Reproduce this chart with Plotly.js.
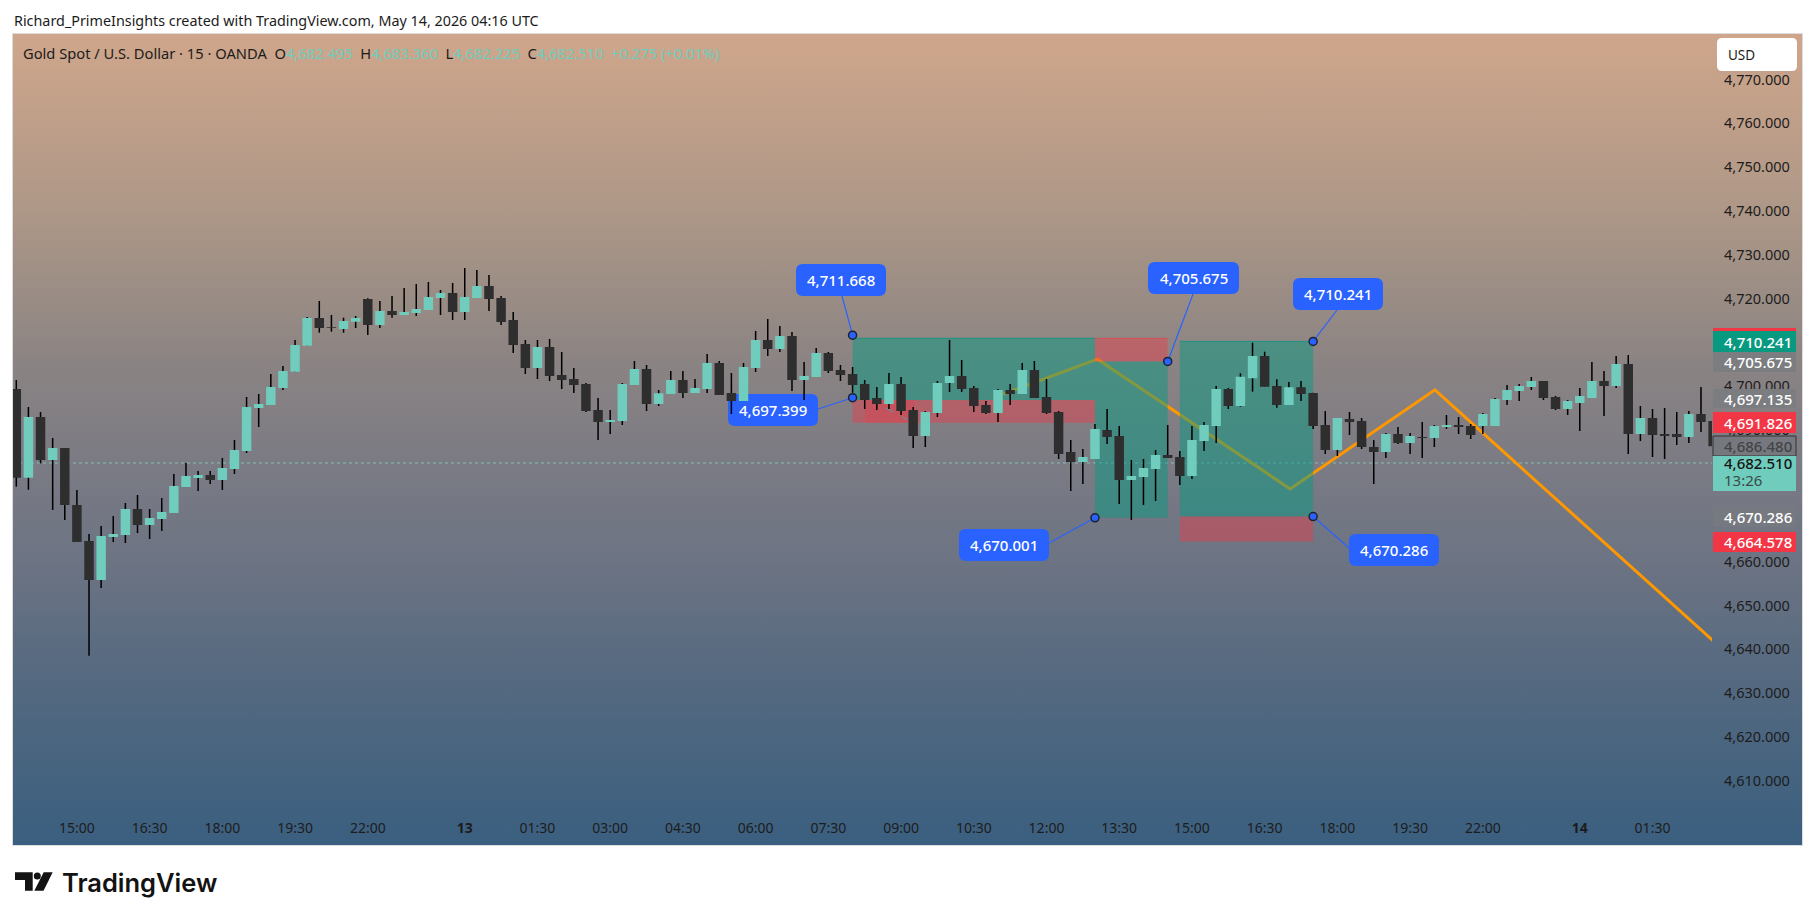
<!DOCTYPE html>
<html>
<head>
<meta charset="utf-8">
<title>Gold Spot / U.S. Dollar</title>
<script src="https://cdn.plot.ly/plotly-3.0.1.min.js"></script>
<style>
  html, body { margin: 0; padding: 0; background: #fff; }
  #bg {
    position: absolute; left: 12px; top: 33px; width: 1789px; height: 811px;
    border: 1px solid #dcdcdc;
    background: linear-gradient(to bottom, #cfa68b 0%, #bd9e89 12%, #ad9787 22%, #9e8f85 30%, #8a8383 41%,
      #7b7b84 53%, #6b7383 66%, #576a80 78%, #44637f 92%, #3b5f80 100%);
  }
  #chart { position: absolute; left: 0; top: 0; width: 1815px; height: 920px; }
</style>
</head>
<body>
<div id="bg"></div>
<div id="chart"></div>
<script>
const candleOpen = [
  4699.38,4679.15,4692.99,4683.18,4685.92,4672.92,4664.70,4655.80,4665.62,4666.07,
  4672.00,4668.35,4669.72,4671.09,4677.02,4679.08,4679.76,4678.62,4681.13,4685.24,
  4695.05,4695.73,4699.61,4703.34,4709.27,4715.59,4713.50,4713.08,4714.75,4719.92,
  4713.99,4717.18,4716.27,4716.73,4717.41,4720.15,4721.29,4716.96,4720.15,4722.89,
  4720.15,4715.13,4709.65,4704.18,4708.97,4702.58,4701.67,4700.53,4694.60,4691.86,
  4692.09,4700.30,4703.95,4695.96,4698.25,4701.44,4698.47,4699.39,4705.32,4698.47,
  4696.65,4704.18,4710.57,4708.51,4711.48,4701.44,4702.12,4707.60,4703.72,4702.81,
  4700.53,4697.33,4695.96,4700.53,4694.60,4688.66,4693.91,4700.76,4702.35,4699.61,
  4695.74,4693.91,4699.16,4698.25,4703.72,4697.56,4694.14,4685.01,4682.73,4683.42,
  4690.03,4688.66,4678.62,4679.31,4681.13,4684.33,4683.87,4679.54,4687.52,4690.95,
  4699.39,4695.50,4701.82,4706.91,4700.07,4695.73,4699.76,4698.47,4691.17,4685.47,
  4692.54,4692.08,4686.15,4685.01,4689.12,4687.06,4688.43,4688.20,4690.71,4691.17,
  4690.94,4690.94,4690.94,4696.87,4698.93,4699.84,4701.21,4697.56,4694.82,4696.19,
  4697.33,4701.21,4700.07,4705.09,4689.12,4692.77,4689.12,4689.12,4688.43,4693.68,
  4692.10];
const candleHigh = [
  4701.44,4695.28,4694.13,4688.20,4685.92,4676.34,4666.30,4668.13,4670.41,4673.37,
  4675.20,4672.00,4674.51,4680.00,4682.50,4680.67,4680.67,4683.64,4687.75,4697.56,
  4698.24,4702.80,4704.63,4710.57,4715.80,4719.47,4716.27,4715.66,4716.04,4720.07,
  4719.47,4720.60,4722.43,4723.34,4723.80,4721.98,4723.57,4727.00,4726.54,4725.40,
  4720.60,4716.96,4710.57,4710.57,4710.80,4707.83,4704.18,4700.76,4697.33,4694.60,
  4700.76,4705.78,4704.86,4699.16,4703.49,4703.49,4701.67,4707.37,4705.78,4703.04,
  4705.32,4712.62,4715.36,4713.76,4712.39,4705.55,4708.74,4707.83,4704.86,4704.40,
  4701.44,4699.84,4703.04,4702.12,4695.28,4694.37,4701.21,4710.57,4706.00,4700.07,
  4696.65,4699.39,4700.53,4705.32,4705.78,4701.67,4694.37,4687.75,4685.70,4691.40,
  4694.82,4690.95,4683.19,4683.42,4685.47,4691.17,4685.24,4690.95,4691.86,4700.07,
  4699.61,4702.96,4709.96,4707.90,4701.59,4700.98,4701.21,4698.55,4694.36,4692.77,
  4694.14,4692.77,4687.75,4689.35,4690.71,4689.35,4691.86,4691.17,4693.45,4693.00,
  4691.40,4693.91,4697.33,4700.30,4700.53,4702.12,4701.21,4697.79,4696.87,4699.61,
  4705.54,4703.49,4706.91,4707.14,4695.51,4694.82,4695.05,4694.14,4694.36,4699.84,
  4692.10];
const candleLow = [
  4677.10,4676.40,4682.42,4671.78,4669.49,4664.47,4638.54,4653.98,4664.47,4664.25,
  4666.53,4665.16,4666.98,4671.09,4677.02,4676.11,4677.71,4676.34,4679.99,4684.78,
  4690.71,4695.73,4699.15,4703.34,4709.27,4712.24,4712.47,4712.24,4713.30,4711.71,
  4713.30,4715.66,4716.27,4716.04,4717.41,4716.27,4715.13,4715.13,4720.15,4717.18,
  4713.99,4707.60,4702.81,4701.67,4701.21,4699.39,4698.48,4694.14,4687.75,4689.12,
  4691.17,4700.30,4694.37,4695.51,4698.25,4697.33,4698.47,4698.47,4698.02,4693.68,
  4696.65,4703.27,4706.92,4707.83,4698.93,4696.88,4702.12,4703.04,4701.21,4698.55,
  4694.82,4694.60,4694.82,4693.45,4685.92,4686.15,4692.99,4698.70,4698.70,4694.14,
  4693.68,4691.86,4695.74,4698.25,4697.33,4693.68,4683.42,4676.12,4677.71,4683.42,
  4686.84,4673.15,4669.50,4672.92,4673.83,4683.64,4677.48,4678.85,4685.24,4687.07,
  4694.82,4695.35,4698.78,4699.92,4695.13,4695.73,4696.65,4690.26,4684.55,4684.10,
  4688.89,4685.69,4677.71,4683.64,4686.84,4684.55,4683.64,4686.15,4690.26,4689.12,
  4687.98,4689.12,4690.94,4695.73,4696.65,4699.16,4696.87,4694.60,4693.45,4689.80,
  4697.33,4693.22,4699.61,4684.55,4687.52,4683.87,4683.41,4686.61,4687.06,4689.57,
  4686.30];
const candleClose = [
  4679.15,4692.99,4683.18,4685.92,4672.92,4664.47,4655.80,4665.84,4666.30,4672.00,
  4668.35,4669.95,4671.32,4677.25,4679.53,4679.76,4678.62,4681.36,4685.47,4695.28,
  4695.96,4699.84,4703.49,4709.43,4715.59,4713.30,4713.30,4714.90,4715.59,4713.99,
  4717.18,4716.27,4716.96,4717.64,4720.38,4721.29,4716.96,4720.38,4722.89,4719.92,
  4714.67,4709.43,4704.18,4708.97,4702.36,4701.44,4700.30,4694.37,4691.86,4692.31,
  4700.53,4703.95,4695.96,4698.40,4701.44,4698.47,4699.61,4705.32,4698.02,4696.65,
  4704.41,4710.57,4708.51,4711.48,4701.44,4702.35,4707.60,4703.49,4702.58,4700.30,
  4696.88,4695.96,4700.53,4694.37,4688.66,4694.14,4700.76,4702.35,4699.39,4695.51,
  4693.91,4699.16,4698.25,4703.72,4697.33,4693.91,4684.56,4682.73,4683.87,4690.26,
  4688.44,4678.62,4679.54,4681.36,4684.33,4683.64,4679.54,4687.75,4691.17,4699.39,
  4695.51,4702.20,4706.91,4699.92,4695.73,4699.76,4698.24,4690.94,4685.47,4692.77,
  4691.86,4686.15,4685.01,4689.12,4687.06,4688.66,4688.20,4690.94,4691.17,4690.71,
  4688.89,4693.68,4697.10,4699.16,4700.07,4701.21,4697.33,4694.82,4696.65,4697.79,
  4701.21,4700.07,4705.09,4689.12,4692.77,4688.89,4688.66,4688.43,4693.68,4691.86,
  4686.30];

const timeTickBars = [5,11,17,23,29,37,43,49,55,61,67,73,79,85,91,97,103,109,115,121,129,135];
const timeTickLabels = ["15:00","16:30","18:00","19:30","22:00","<b>13</b>","01:30","03:00","04:30","06:00","07:30",
  "09:00","10:30","12:00","13:30","15:00","16:30","18:00","19:30","22:00","<b>14</b>","01:30"];
// 4,670 4,680 and 4,710 sit fully behind the price tags in the picture
const priceTicks = [4610,4620,4630,4640,4650,4660,4690,4700,4720,4730,4740,4750,4760,4770];

// orange zigzag drawing, and the short faint dashed one inside the first box
const zigzagBars = [81.4, 89.2, 105.1, 117.05, 140.5];
const zigzagPrices = [4698.2, 4706.2, 4676.6, 4699.2, 4640.7];
const dashBars = [71.7, 73.6];
const dashPrices = [4695.05, 4692.3];

// position boxes
const boxStart = [69, 89, 96];
const boxEnd = [89, 95, 107];
const boxTop = [4710.95, 4710.95, 4710.24];
const boxMid = [4696.9, 4705.68, 4670.29];
const boxBottom = [4691.7, 4670.0, 4664.58];
const boxProfitOnTop = [true, false, true];

// price notes: the blue labels with a dot on the chart
const noteBars = [69, 69, 89, 95, 107, 107];
const notePrices = [4711.668, 4697.399, 4670.001, 4705.675, 4710.241, 4670.286];
const lastPrice = 4682.51;
const plot = {left: 13, right: 1712, top: 34, bottom: 818};
const barX = px => (px - 16.3) / 12.12;
const priceY = py => 4770 - (py - 79.5) / 4.383;
const paperX = px => (px - plot.left) / (plot.right - plot.left);
const paperY = py => (plot.bottom - py) / (plot.bottom - plot.top);

const fmt = v => v.toLocaleString("en-US", {minimumFractionDigits: 3, maximumFractionDigits: 3});
const TEAL = "#70ccbd", DARK = "#2e2e2e", BLUE = "#2962ff", INK = "#1c1c1c";
const FONT = "Noto Sans";

// rounded rectangle as a shape path, x and y mappers decide the reference
function roundPath(x0, y0, x1, y1, r, mx, my) {
  const p = (a, b) => mx(a) + "," + my(b);
  return "M" + p(x0 + r, y0) + " L" + p(x1 - r, y0) + " Q" + p(x1, y0) + " " + p(x1, y0 + r) +
    " L" + p(x1, y1 - r) + " Q" + p(x1, y1) + " " + p(x1 - r, y1) +
    " L" + p(x0 + r, y1) + " Q" + p(x0, y1) + " " + p(x0, y1 - r) +
    " L" + p(x0, y0 + r) + " Q" + p(x0, y0) + " " + p(x0 + r, y0) + " Z";
}

const shapes = [];
const annotations = [];

// zigzag goes first so the boxes tint it
shapes.push({type: "path", xref: "x", yref: "y", layer: "below",
  path: "M" + zigzagBars.map((b, i) => b + "," + zigzagPrices[i]).join(" L"),
  line: {color: "#ff9800", width: 3}});

const GREEN_FILL = "rgba(8,153,129,0.5)", RED_FILL = "rgba(242,54,69,0.42)";
boxStart.forEach((start, i) => {
  const upper = boxProfitOnTop[i] ? GREEN_FILL : RED_FILL;
  const lower = boxProfitOnTop[i] ? RED_FILL : GREEN_FILL;
  const common = {type: "rect", xref: "x", yref: "y", layer: "below", x0: start, x1: boxEnd[i]};
  shapes.push(Object.assign({}, common, {y0: boxTop[i], y1: boxMid[i], fillcolor: upper, line: {width: 0}}));
  shapes.push(Object.assign({}, common, {y0: boxMid[i], y1: boxBottom[i], fillcolor: lower, line: {width: 0}}));
  shapes.push({type: "line", xref: "x", yref: "y", layer: "below", x0: start, x1: boxEnd[i], y0: boxTop[i], y1: boxTop[i],
    line: {color: boxProfitOnTop[i] ? "rgba(8,153,129,0.8)" : "rgba(242,54,69,0.5)", width: 1}});
});
// brighter patch in the red part of the first box
shapes.push({type: "rect", xref: "x", yref: "y", layer: "below", x0: barX(865), x1: barX(915), y0: boxMid[0], y1: boxBottom[0],
  fillcolor: "rgba(242,54,69,0.3)", line: {width: 0}});
shapes.push({type: "path", xref: "x", yref: "y", layer: "below",
  path: "M" + dashBars[0] + "," + dashPrices[0] + " L" + dashBars[1] + "," + dashPrices[1],
  line: {color: "rgba(130,130,135,0.9)", width: 1.5, dash: "dash"}});

// last price line
shapes.push({type: "line", xref: "paper", yref: "y", layer: "below", x0: 0, x1: 1, y0: lastPrice, y1: lastPrice,
  line: {color: "rgba(140,215,200,0.75)", width: 1, dash: "dot"}});

// blue labels: box in pixels, leader from the box to the dot
const noteBoxes = [
  {x0: 796, x1: 886, y0: 264, y1: 296, lx: 842, ly: 296},
  {x0: 728, x1: 818, y0: 394, y1: 426, lx: 818, ly: 409},
  {x0: 959, x1: 1049, y0: 529, y1: 561, lx: 1049, ly: 543},
  {x0: 1148, x1: 1239, y0: 262, y1: 294, lx: 1193, ly: 294},
  {x0: 1293, x1: 1383, y0: 278, y1: 310, lx: 1337, ly: 310},
  {x0: 1349, x1: 1439, y0: 534, y1: 566, lx: 1349, ly: 548}
];
noteBoxes.forEach((b, i) => {
  shapes.push({type: "line", xref: "x", yref: "y", layer: "below", x0: barX(b.lx), y0: priceY(b.ly),
    x1: noteBars[i], y1: notePrices[i], line: {color: BLUE, width: 1.2}});
  shapes.push({type: "path", xref: "x", yref: "y", layer: "below", fillcolor: BLUE, line: {width: 0},
    path: roundPath(b.x0, b.y0, b.x1, b.y1, 7, barX, priceY)});
  annotations.push({xref: "paper", yref: "paper", x: paperX((b.x0 + b.x1) / 2), y: paperY((b.y0 + b.y1) / 2 - 0.5),
    xanchor: "center", yanchor: "middle", showarrow: false, text: fmt(notePrices[i]),
    font: {family: FONT, size: 15, color: "#fff", weight: 500}});
});

// price axis tags, the order matters because they overlap a little
const tagValues = [4710.241, 4705.675, 4697.135, 4691.826, 4686.48, 4682.51, 4670.286, 4664.578];
const tagStyles = [
  {y0: 331, y1: 352, fill: "#089981", text: "#fff"},
  {y0: 352, y1: 372, fill: "#7b7d80", text: "#fff"},
  {y0: 389, y1: 408, fill: "#7b7d80", text: "#fff"},
  {y0: 412, y1: 433, fill: "#f23645", text: "#fff"},
  {y0: 436, y1: 456, fill: "#767880", text: "#444", border: "#333"},
  {y0: 456, y1: 491, fill: TEAL, text: "#141414", cy: 463},
  {y0: 506, y1: 527, fill: "#767a80", text: "#fff"},
  {y0: 532, y1: 552, fill: "#f23645", text: "#fff"}
];
const tagLeft = 1713, tagRight = 1796, tagTextLeft = 1721.5;
function pixelRect(x0, y0, x1, y1, fill, line) {
  return {type: "rect", xref: "paper", yref: "paper", layer: "above", x0: paperX(x0), x1: paperX(x1), y0: paperY(y0), y1: paperY(y1),
    fillcolor: fill, line: line || {width: 0}};
}
function pixelText(px, py, text, font, anchor) {
  return {xref: "paper", yref: "paper", x: paperX(px), y: paperY(py), xanchor: anchor || "left", yanchor: "middle",
    showarrow: false, text: text, font: font};
}
shapes.push(pixelRect(tagLeft, 328, tagRight, 332, "#f23645"));
tagStyles.forEach((t, i) => {
  shapes.push(pixelRect(tagLeft, t.y0, tagRight, t.y1, t.fill, t.border ? {color: t.border, width: 1} : null));
  annotations.push(pixelText(tagTextLeft, t.cy || (t.y0 + t.y1) / 2, fmt(tagValues[i]), {family: FONT, size: 15, color: t.text, weight: 500}));
});
annotations.push(pixelText(tagTextLeft, 480, "13:26", {family: FONT, size: 15, color: "#3a4a48"}));

// USD button, the strip under it hides the top of the 4,770 label
shapes.push(pixelRect(1717, 68, 1797, 75, "#c5a08a"));
shapes.push({type: "path", xref: "paper", yref: "paper", layer: "above", fillcolor: "#fff", line: {width: 0},
  path: roundPath(1717, 38, 1797, 71, 5, paperX, paperY)});
annotations.push(pixelText(1726.5, 54.5, "USD", {family: FONT, size: 13.5, color: INK}));

// header line
annotations.push(pixelText(11.5, 20, "Richard_PrimeInsights created with TradingView.com, May 14, 2026 04:16 UTC",
  {family: FONT, size: 14.35, color: INK}));

// logo, drawn in pixels under the chart
const logoPaths = [
  "M15,872.3 L32.7,872.3 L32.7,890.7 L25,890.7 L25,880 L15,880 Z",
  "M43.7,872.3 L52.7,872.3 L43.5,890.7 L34.3,890.7 Z"
];
logoPaths.forEach(p => {
  const mapped = p.replace(/([\d.]+),([\d.]+)/g, (m, a, b) => paperX(+a) + "," + paperY(+b));
  shapes.push({type: "path", xref: "paper", yref: "paper", layer: "above", fillcolor: "#131313", line: {width: 0}, path: mapped});
});
shapes.push({type: "circle", xref: "paper", yref: "paper", layer: "above", fillcolor: "#131313", line: {width: 0},
  x0: paperX(33.8), x1: paperX(40.8), y0: paperY(872.4), y1: paperY(879.4)});
annotations.push(pixelText(60, 882, "TradingView", {family: "Inter", size: 25.5, color: "#131313", weight: 600}));

const up = s => '<span style="color:' + TEAL + '">' + s + "</span>";
const legendText = "Gold Spot / U.S. Dollar · 15 · OANDA\u00a0\u00a0O" + up("4,682.495") + "\u00a0\u00a0H" + up("4,683.360") +
  "\u00a0\u00a0L" + up("4,682.225") + "\u00a0\u00a0C" + up("4,682.510") + "\u00a0\u00a0" + up("+0.275 (+0.01%)");

const allBars = candleOpen.map((_, i) => i);
const wicks = {
  type: "bar", x: allBars, base: candleLow, y: candleHigh.map((h, i) => h - candleLow[i]),
  width: 0.125, marker: {color: "#000", line: {width: 0}}, hoverinfo: "skip"
};
const bodies = {
  type: "candlestick", x: allBars, open: candleOpen, close: candleClose,
  high: candleOpen.map((o, i) => Math.max(o, candleClose[i])),
  low: candleOpen.map((o, i) => Math.min(o, candleClose[i])),
  whiskerwidth: 0,
  increasing: {fillcolor: TEAL, line: {color: TEAL, width: 0}},
  decreasing: {fillcolor: DARK, line: {color: DARK, width: 0}},
  hoverinfo: "skip"
};
const noteDots = {
  type: "scatter", mode: "markers", x: noteBars, y: notePrices,
  marker: {size: 8, color: BLUE, line: {color: "#1e222d", width: 1.5}}, hoverinfo: "skip"
};

const layout = {
  width: 1815, height: 920,
  margin: {l: plot.left, r: 1815 - plot.right, t: plot.top, b: 920 - plot.bottom, pad: 0},
  paper_bgcolor: "rgba(0,0,0,0)", plot_bgcolor: "rgba(0,0,0,0)",
  showlegend: false, dragmode: false, hovermode: false,
  barmode: "overlay", boxgap: 0.22, boxgroupgap: 0,
  title: {text: legendText, xref: "container", yref: "container", x: 23 / 1815, y: 1 - 54 / 920, xanchor: "left", yanchor: "middle",
    font: {family: FONT, size: 14.7, color: INK}},
  xaxis: {
    type: "linear", range: [barX(plot.left), barX(plot.right)], fixedrange: true, rangeslider: {visible: false},
    showgrid: false, zeroline: false, showline: false, ticks: "",
    tickmode: "array", tickvals: timeTickBars, ticktext: timeTickLabels,
    tickfont: {family: FONT, size: 14, color: INK}
  },
  yaxis: {
    side: "right", range: [priceY(plot.bottom), priceY(plot.top)], fixedrange: true,
    showgrid: false, zeroline: false, showline: false, ticks: "",
    tickmode: "array", tickvals: priceTicks, ticktext: priceTicks.map(fmt), ticklabelstandoff: 11,
    tickfont: {family: FONT, size: 14.5, color: INK}
  },
  shapes: shapes,
  annotations: annotations
};

Plotly.newPlot("chart", [wicks, bodies, noteDots], layout, {displayModeBar: false, staticPlot: true});
</script>
</body>
</html>
